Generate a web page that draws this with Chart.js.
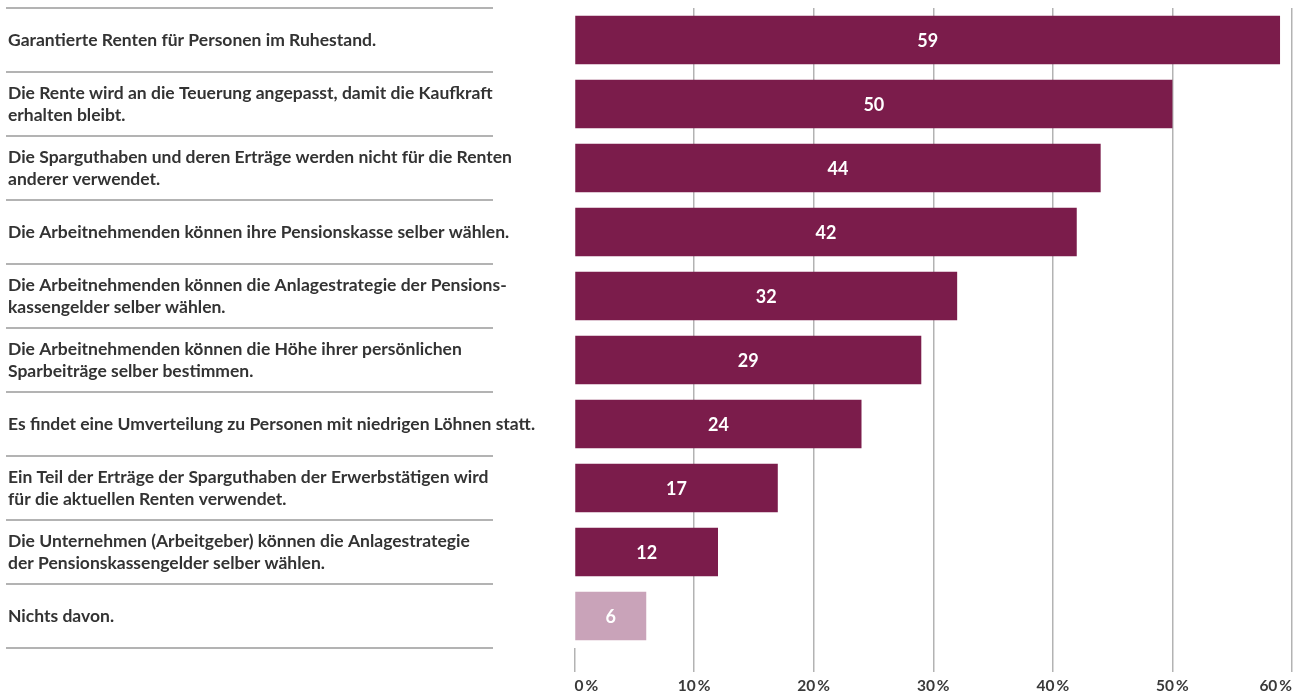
<!DOCTYPE html>
<html>
<head>
<meta charset="utf-8">
<script src="https://cdn.jsdelivr.net/npm/chart.js@4"></script>
<style>
  html, body { margin: 0; padding: 0; background: #ffffff; }
  #wrap { width: 1303px; height: 695px; position: relative; }
</style>
</head>
<body>
<div id="wrap"><canvas id="c"></canvas></div>
<script>
const categories = [
  "Garantierte Renten für Personen im Ruhestand.",
  ["Die Rente wird an die Teuerung angepasst, damit die Kaufkraft", "erhalten bleibt."],
  ["Die Sparguthaben und deren Erträge werden nicht für die Renten", "anderer verwendet."],
  "Die Arbeitnehmenden können ihre Pensionskasse selber wählen.",
  ["Die Arbeitnehmenden können die Anlagestrategie der Pensions-", "kassengelder selber wählen."],
  ["Die Arbeitnehmenden können die Höhe ihrer persönlichen", "Sparbeiträge selber bestimmen."],
  "Es findet eine Umverteilung zu Personen mit niedrigen Löhnen statt.",
  ["Ein Teil der Erträge der Sparguthaben der Erwerbstätigen wird", "für die aktuellen Renten verwendet."],
  ["Die Unternehmen (Arbeitgeber) können die Anlagestrategie", "der Pensionskassengelder selber wählen."],
  "Nichts davon."
];
const values = [59, 50, 44, 42, 32, 29, 24, 17, 12, 6];
const barColors = ["#7b1c4b","#7b1c4b","#7b1c4b","#7b1c4b","#7b1c4b","#7b1c4b","#7b1c4b","#7b1c4b","#7b1c4b","#c9a3b9"];
const tickValues = [0, 10, 20, 30, 40, 50, 60];
const tickLabels = ["0\u2009%", "10\u2009%", "20\u2009%", "30\u2009%", "40\u2009%", "50\u2009%", "60\u2009%"];

const FONT = "Lato, 'Open Sans', sans-serif";

const separatorPlugin = {
  id: 'separators',
  beforeDatasetsDraw(chart) {
    const ys = chart.scales.y;
    const n = categories.length;
    const half = (ys.getPixelForValue(1) - ys.getPixelForValue(0)) / 2;
    const ctx = chart.ctx;
    ctx.save();
    ctx.strokeStyle = '#b3b3b3';
    ctx.lineWidth = 2;
    for (let i = 0; i <= n; i++) {
      const y = Math.round(ys.getPixelForValue(i) - half);
      ctx.beginPath();
      ctx.moveTo(6, y);
      ctx.lineTo(493, y);
      ctx.stroke();
    }
    ctx.restore();
  }
};

const valueLabelPlugin = {
  id: 'valueLabels',
  afterDatasetsDraw(chart) {
    const meta = chart.getDatasetMeta(0);
    const ctx = chart.ctx;
    ctx.save();
    ctx.fillStyle = '#ffffff';
    ctx.font = "bold 18px " + FONT;
    ctx.textAlign = 'center';
    ctx.textBaseline = 'middle';
    meta.data.forEach((bar, i) => {
      const x = (bar.base + bar.x) / 2;
      ctx.fillText(String(values[i]), x, bar.y + 1);
    });
    ctx.restore();
  }
};

new Chart(document.getElementById('c'), {
  type: 'bar',
  data: {
    labels: categories,
    datasets: [{
      data: values,
      backgroundColor: barColors,
      borderWidth: 0,
      categoryPercentage: 1.0,
      barPercentage: 0.76
    }]
  },
  options: {
    indexAxis: 'y',
    responsive: true,
    maintainAspectRatio: false,
    animation: false,
    layout: { padding: { top: 8, left: 8, right: 11, bottom: 0 } },
    plugins: {
      legend: { display: false },
      tooltip: { enabled: false }
    },
    scales: {
      x: {
        min: 0,
        max: 60,
        afterBuildTicks(scale) {
          scale.ticks = tickValues.map(v => ({ value: v }));
        },
        afterFit(scale) {
          scale.height = 47;
          scale.paddingLeft = 0;
          scale.paddingRight = 0;
        },
        border: { display: false },
        grid: {
          color: (c) => (c.tick && c.tick.value === 0) ? 'rgba(0,0,0,0)' : '#b3b3b3',
          tickColor: '#b3b3b3',
          lineWidth: 1.5,
          drawTicks: true,
          tickLength: 24
        },
        ticks: {
          align: 'inner',
          padding: 5,
          color: '#3a3a3a',
          font: { family: FONT, size: 15.5, weight: 'bold' },
          callback: (v, i) => tickLabels[i]
        }
      },
      y: {
        afterFit(scale) {
          scale.width = 566.5;
          scale.paddingTop = 0;
          scale.paddingBottom = 0;
        },
        border: { display: false },
        grid: { display: false, drawTicks: false },
        ticks: {
          crossAlign: 'far',
          padding: 0,
          color: '#333333',
          font: { family: FONT, size: 17.5, weight: 'bold', lineHeight: 1.26 },
          autoSkip: false
        }
      }
    }
  },
  plugins: [separatorPlugin, valueLabelPlugin]
});
</script>
</body>
</html>
